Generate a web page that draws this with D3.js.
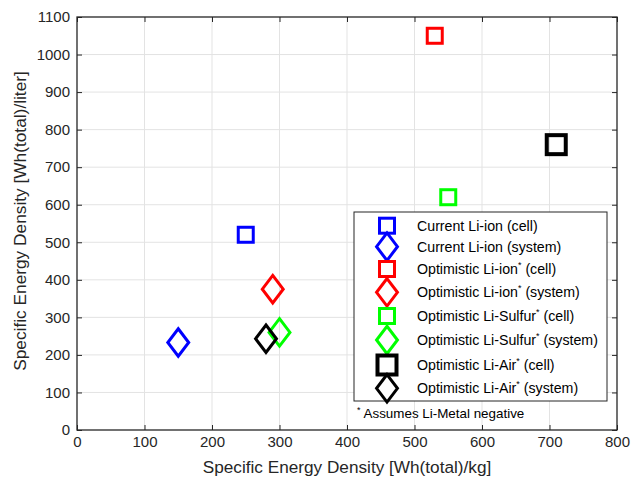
<!DOCTYPE html>
<html><head><meta charset="utf-8">
<script src="https://cdn.jsdelivr.net/npm/d3@7"></script>
<style>body{margin:0;background:#fff}svg{display:block}text{font-family:"Liberation Sans",Arial,sans-serif}</style>
</head><body><svg id="c" width="632" height="480"></svg>
<script>
const names = ["Current Li-ion (cell)","Current Li-ion (system)","Optimistic Li-ion","Optimistic Li-ion","Optimistic Li-Sulfur","Optimistic Li-Sulfur","Optimistic Li-Air","Optimistic Li-Air"];
const starred = [false,false,true,true,true,true,true,true];
const suffix = ["","","(cell)","(system)","(cell)","(system)","(cell)","(system)"];
const xVals = [250,150,530,290,550,300,710,280];
const yVals = [520,233,1050,375,620,260,760,243];
const colors = ["#0000ff","#0000ff","#ff0000","#ff0000","#00ff00","#00ff00","#000000","#000000"];
const shapes = ["square","diamond","square","diamond","square","diamond","square","diamond"];
const sizes = [15,22,15,22,15,22,19,22];
const xTicks = [0,100,200,300,400,500,600,700,800];
const yTicks = [0,100,200,300,400,500,600,700,800,900,1000,1100];

const svg = d3.select("#c");
const L=77,R=617,T=17,B=430;
const x = d3.scaleLinear().domain([0,800]).range([L,R]);
const y = d3.scaleLinear().domain([0,1100]).range([B,T]);

// grid
svg.append("g").selectAll("line").data(xTicks.slice(1,-1)).join("line")
  .attr("x1",d=>x(d)).attr("x2",d=>x(d)).attr("y1",T).attr("y2",B)
  .attr("stroke","#e3e3e3").attr("stroke-width",1);
svg.append("g").selectAll("line").data(yTicks.slice(1,-1)).join("line")
  .attr("y1",d=>y(d)).attr("y2",d=>y(d)).attr("x1",L).attr("x2",R)
  .attr("stroke","#e3e3e3").attr("stroke-width",1);

function marker(g, shape, cx, cy, s, color, sw){
  if(shape==="square"){
    g.append("rect").attr("x",cx-s/2).attr("y",cy-s/2).attr("width",s).attr("height",s)
      .attr("fill","none").attr("stroke",color).attr("stroke-width",sw);
  } else {
    const w=s/2*0.95, h=s/2*1.25;
    g.append("path").attr("d",`M${cx},${cy-h}L${cx+w},${cy}L${cx},${cy+h}L${cx-w},${cy}Z`)
      .attr("fill","none").attr("stroke",color).attr("stroke-width",sw).attr("stroke-linejoin","miter");
  }
}
const mg = svg.append("g");
xVals.forEach((v,i)=>{
  marker(mg, shapes[i], x(v), y(yVals[i]), sizes[i], colors[i], i===6?4:3);
});

// axes
const fmt = d3.format("d");
const xb = svg.append("g").attr("transform",`translate(0,${B})`).call(d3.axisBottom(x).tickValues(xTicks).tickFormat(fmt).tickSizeInner(-5).tickSizeOuter(0).tickPadding(6));
const xt = svg.append("g").attr("transform",`translate(0,${T})`).call(d3.axisTop(x).tickValues(xTicks).tickSizeInner(-5).tickSizeOuter(0).tickFormat(""));
const yl = svg.append("g").attr("transform",`translate(${L},0)`).call(d3.axisLeft(y).tickValues(yTicks).tickFormat(fmt).tickSizeInner(-5).tickSizeOuter(0).tickPadding(7));
const yr = svg.append("g").attr("transform",`translate(${R},0)`).call(d3.axisRight(y).tickValues(yTicks).tickSizeInner(-5).tickSizeOuter(0).tickFormat(""));
[xb,xt,yl,yr].forEach(g=>{
  g.select(".domain").remove();
  g.selectAll("line").attr("stroke","#262626");
  g.selectAll("text").attr("font-size",15).attr("fill","#262626").attr("font-family","'Liberation Sans',Arial,sans-serif");
});
svg.append("rect").attr("x",L).attr("y",T).attr("width",R-L).attr("height",B-T)
  .attr("fill","none").attr("stroke","#262626").attr("stroke-width",1.3);

// axis labels
svg.append("text").attr("x",(L+R)/2).attr("y",473).attr("text-anchor","middle").attr("font-size",17.2).attr("fill","#262626")
  .text("Specific Energy Density [Wh(total)/kg]");
svg.append("text").attr("transform",`translate(26,221) rotate(-90)`).attr("text-anchor","middle").attr("font-size",17.3).attr("fill","#262626")
  .text("Specific Energy Density [Wh(total)/liter]");

// legend
const lg = svg.append("g");
lg.append("rect").attr("x",354).attr("y",212).attr("width",253).attr("height",189)
  .attr("fill","#fff").attr("stroke","#262626").attr("stroke-width",1);
const rowY = [225.7,246.7,269,292.3,316,340,365,388.3];
const lsizes = [15,22,15,22,15,22,19,22];
const fs = 14.2;
names.forEach((n,i)=>{
  marker(lg, shapes[i], 387, rowY[i], lsizes[i], colors[i], i===6?4:3);
  const t = lg.append("text").attr("x",417).attr("y",rowY[i]+5).attr("font-size",fs).attr("fill","#000");
  t.append("tspan").text(n);
  if(starred[i]){
    t.append("tspan").attr("dy",-6).attr("font-size",9).text("*");
    t.append("tspan").attr("dy",6).attr("font-size",fs).text(" "+suffix[i]);
  }
});
const nt = svg.append("text").attr("x",357).attr("y",418).attr("font-size",13.4).attr("fill","#000").attr("font-family","'Open Sans','Noto Sans',sans-serif");
nt.append("tspan").attr("font-size",9).attr("dy",-5).text("*");
nt.append("tspan").attr("dy",5).attr("dx",3).text("Assumes Li-Metal negative");
</script></body></html>
